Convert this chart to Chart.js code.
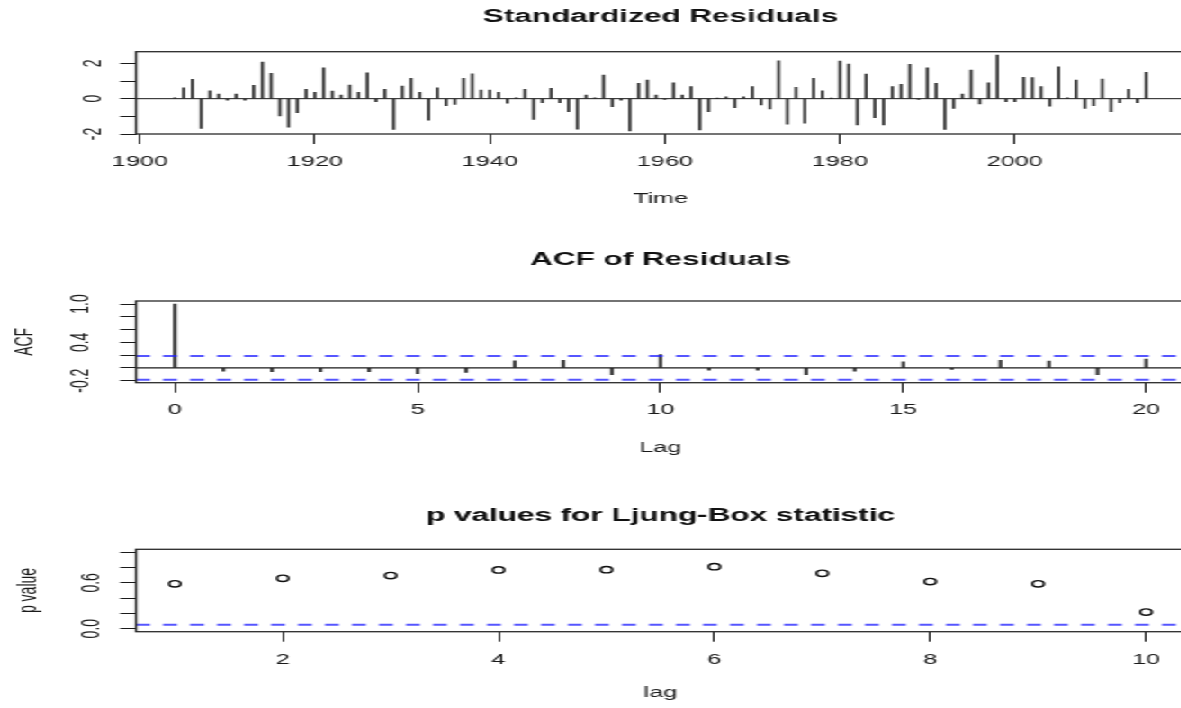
<!DOCTYPE html>
<html><head><meta charset="utf-8">
<script src="https://cdn.jsdelivr.net/npm/chart.js@4.4.1/dist/chart.umd.min.js"></script>
<style>
html,body{margin:0;padding:0;background:#fff;overflow:hidden;width:1181px;height:708px;}
#wrap{position:absolute;left:0;top:0;width:665px;height:708px;transform:scaleX(1.8);transform-origin:0 0;}
#wrap canvas{position:absolute;left:0;}
</style></head><body>
<div id="wrap">
<canvas id="c1" width="665" height="236" style="top:0px"></canvas>
<canvas id="c2" width="665" height="236" style="top:236px"></canvas>
<canvas id="c3" width="665" height="236" style="top:472px"></canvas>
</div>
<script>
// ---------------- DATA ----------------
const resYears = [1904,1905,1906,1907,1908,1909,1910,1911,1912,1913,1914,1915,1916,1917,1918,1919,
1920,1921,1922,1923,1924,1925,1926,1927,1928,1929,1930,1931,1932,1933,1934,1935,1936,1937,1938,1939,
1940,1941,1942,1943,1944,1945,1946,1947,1948,1949,1950,1951,1952,1953,1954,1955,1956,1957,1958,1959,
1960,1961,1962,1963,1964,1965,1966,1967,1968,1969,1970,1971,1972,1973,1974,1975,1976,1977,1978,1979,
1980,1981,1982,1983,1984,1985,1986,1987,1988,1989,1990,1991,1992,1993,1994,1995,1996,1997,1998,1999,
2000,2001,2002,2003,2004,2005,2006,2007,2008,2009,2010,2011,2012,2013,2014,2015];
const stdResiduals = [0.05,0.62,1.09,-1.68,0.45,0.26,-0.08,0.26,-0.08,0.75,2.07,1.43,-0.98,-1.62,-0.79,0.53,
0.36,1.75,0.43,0.21,0.77,0.36,1.47,-0.17,0.53,-1.74,0.72,1.15,0.36,-1.21,0.62,-0.40,-0.32,1.15,1.41,0.49,
0.49,0.36,-0.26,0.05,0.53,-1.17,-0.23,0.58,-0.23,-0.74,-1.72,0.21,0.05,1.34,-0.45,-0.08,-1.83,0.87,1.06,0.21,
-0.04,0.90,0.21,0.68,-1.77,-0.74,0.02,0.11,-0.51,0.11,0.68,-0.36,-0.58,2.15,-1.45,0.64,-1.39,1.15,0.45,0.02,
2.13,1.96,-1.49,1.39,-1.07,-1.49,0.68,0.81,1.94,-0.04,1.75,0.87,-1.74,-0.55,0.26,1.62,-0.30,0.90,2.47,-0.17,
-0.17,1.21,1.19,0.68,-0.42,1.81,0.05,1.06,-0.55,-0.40,1.11,-0.74,-0.23,0.53,-0.23,1.49];
const resXTicks = [1900,1920,1940,1960,1980,2000];
const resXTickLabels = ['1900','1920','1940','1960','1980','2000'];
const resYTicks = [-2,-1,0,1,2];
const resYTickLabels = ['-2','','0','','2'];

const acfLags = [0,1,2,3,4,5,6,7,8,9,10,11,12,13,14,15,16,17,18,19,20];
const acfValues = [1.0,-0.05,-0.06,-0.06,-0.06,-0.089,-0.073,0.11,0.12,-0.105,0.21,-0.037,-0.037,-0.105,-0.05,0.095,-0.026,0.12,0.105,-0.105,0.136];
const acfBound = 0.185;
const acfXTicks = [0,5,10,15,20];
const acfXTickLabels = ['0','5','10','15','20'];
const acfYTicks = [-0.2,0,0.2,0.4,0.6,0.8,1.0];
const acfYTickLabels = ['-0.2','','','0.4','','','1.0'];

const lbLags = [1,2,3,4,5,6,7,8,9,10];
const lbPValues = [0.587,0.66,0.695,0.77,0.773,0.812,0.725,0.617,0.587,0.217];
const lbSignif = 0.05;
const lbXTicks = [2,4,6,8,10];
const lbXTickLabels = ['2','4','6','8','10'];
const lbYTicks = [0,0.2,0.4,0.6,0.8,1.0];
const lbYTickLabels = ['0.0','','','0.6','',''];

// ---------------- LAYOUT ----------------
const SX = 1.8;                 // horizontal stretch of the reference
const CW = 665;                 // canvas width (before stretch)
const PLOT_LEFT = 136 / SX;
const PLOT_RIGHT = 1185 / SX;
const FONT = '"Liberation Sans", Arial, Helvetica, sans-serif';
Chart.defaults.font.family = FONT;
Chart.defaults.color = '#1a1a1a';

const decor = {
  id: 'decor',
  afterDraw(chart, args, opts) {
    const {ctx, chartArea: a} = chart;
    const ys = chart.scales.y;
    ctx.save();
    ctx.strokeStyle = '#2a2a2a';
    ctx.lineWidth = 1.3;
    ctx.strokeRect(a.left, a.top, a.right - a.left, a.bottom - a.top);
    ctx.fillStyle = '#1a1a1a';
    ctx.font = '14px ' + FONT;
    ctx.textAlign = 'center';
    ctx.textBaseline = 'alphabetic';
    ys.ticks.forEach(t => {
      if (!t.label) return;
      const y = ys.getPixelForValue(t.value);
      ctx.save();
      ctx.translate(opts.labelX, y);
      ctx.rotate(-Math.PI / 2);
      ctx.fillText(t.label, 0, 0);
      ctx.restore();
    });
    ctx.restore();
  }
};

function panel(id, p) {
  return new Chart(document.getElementById(id), {
    type: p.type,
    data: { datasets: p.datasets },
    plugins: [decor],
    options: {
      responsive: false,
      animation: false,
      events: [],
      layout: { padding: { left: 0, right: CW - PLOT_RIGHT, top: 0, bottom: p.padBottom } },
      plugins: {
        legend: { display: false },
        tooltip: { enabled: false },
        title: {
          display: true, text: p.title, fullSize: false, color: '#111',
          font: { size: 17.5, weight: 'bold' },
          padding: { top: p.titleTop, bottom: p.titleBottom }
        },
        decor: { labelX: p.yLabelX }
      },
      scales: {
        x: {
          type: 'linear', min: p.xMin, max: p.xMax, offset: false,
          afterBuildTicks: s => { s.ticks = p.xTicks.map(v => ({ value: v })); },
          afterFit: s => { s.height = p.xAxisH; },
          grid: { drawOnChartArea: false, drawTicks: true, tickLength: 10, color: '#1a1a1a', lineWidth: 1, offset: false },
          border: { display: false },
          ticks: { font: { size: 14 }, color: '#1a1a1a', padding: p.xTickPad, maxRotation: 0, minRotation: 0, autoSkip: false,
                   callback: (v, i) => p.xLabels[i] },
          title: { display: true, text: p.xTitle, font: { size: 14 }, color: '#1a1a1a', padding: { top: 0, bottom: 0 } }
        },
        y: {
          type: 'linear', min: p.yMin, max: p.yMax,
          afterBuildTicks: s => { s.ticks = p.yTicks.map(v => ({ value: v })); },
          afterFit: s => { s.width = PLOT_LEFT; },
          grid: { drawOnChartArea: false, drawTicks: true, tickLength: 16 / SX, color: '#1a1a1a', lineWidth: 1 },
          border: { display: false },
          ticks: { display: false, callback: (v, i) => p.yLabels[i] },
          title: { display: !!p.yTitle, text: p.yTitle || '', font: { size: 14 }, color: '#1a1a1a',
                   padding: { top: p.yTitlePad || 0, bottom: 0 } }
        }
      }
    }
  });
}

const dashStyle = { borderColor: 'rgba(30,30,255,0.75)', borderWidth: 2, borderDash: [14 / SX, 13 / SX],
                    pointRadius: 0, fill: false, type: 'line' };

// Panel 1: standardized residuals
const r0 = 1899.56, r1 = 2019.44;
panel('c1', {
  type: 'bar', title: 'Standardized Residuals', titleTop: 6.5, titleBottom: 24.2,
  xMin: r0, xMax: r1, yMin: -2.0, yMax: 2.66,
  xTicks: resXTicks, xLabels: resXTickLabels, yTicks: resYTicks, yLabels: resYTickLabels,
  xTitle: 'Time', xTickPad: 9.6, xAxisH: 73.4, padBottom: 28.6, yLabelX: 100 / SX,
  datasets: [
    { type: 'line', data: [{ x: r0, y: 0 }, { x: r1, y: 0 }], borderColor: '#1a1a1a', borderWidth: 1, pointRadius: 0 },
    { type: 'bar', data: resYears.map((yr, i) => ({ x: yr, y: stdResiduals[i] })),
      backgroundColor: '#333333', barThickness: 1.05, borderWidth: 0 }
  ]
});

// Panel 2: ACF of residuals
const a0 = -0.8, a1 = 20.8;
panel('c2', {
  type: 'bar', title: 'ACF of Residuals', titleTop: 14, titleBottom: 30,
  xMin: a0, xMax: a1, yMin: -0.232, yMax: 1.047,
  xTicks: acfXTicks, xLabels: acfXTickLabels, yTicks: acfYTicks, yLabels: acfYTickLabels,
  xTitle: 'Lag', xTickPad: 8.9, xAxisH: 73.7, padBottom: 15.6, yLabelX: 88.3 / SX,
  yTitle: 'ACF', yTitlePad: 5.9,
  datasets: [
    { type: 'line', data: [{ x: a0, y: 0 }, { x: a1, y: 0 }], borderColor: '#1a1a1a', borderWidth: 1.3, pointRadius: 0 },
    Object.assign({ data: [{ x: a0, y: acfBound }, { x: a1, y: acfBound }] }, dashStyle),
    Object.assign({ data: [{ x: a0, y: -acfBound }, { x: a1, y: -acfBound }] }, dashStyle),
    { type: 'bar', data: acfLags.map((l, i) => ({ x: l, y: acfValues[i] })),
      backgroundColor: '#444444', barThickness: 1.5, borderWidth: 0 }
  ]
});

// Panel 3: Ljung-Box p values
const l0 = 0.64, l1 = 10.36;
panel('c3', {
  type: 'scatter', title: 'p values for Ljung-Box statistic', titleTop: 33.5, titleBottom: 22.8,
  xMin: l0, xMax: l1, yMin: -0.04, yMax: 1.04,
  xTicks: lbXTicks, xLabels: lbXTickLabels, yTicks: lbYTicks, yLabels: lbYTickLabels,
  xTitle: 'lag', xTickPad: 9.9, xAxisH: 70.2, padBottom: 6.1, yLabelX: 99.5 / SX,
  yTitle: 'p value', yTitlePad: 8.1,
  datasets: [
    Object.assign({ data: [{ x: l0, y: lbSignif }, { x: l1, y: lbSignif }] }, dashStyle),
    { type: 'scatter', data: lbLags.map((l, i) => ({ x: l, y: lbPValues[i] })),
      pointStyle: 'circle', pointRadius: 3.2, borderColor: '#111', borderWidth: 1.4,
      backgroundColor: 'rgba(0,0,0,0)' }
  ]
});
</script>
</body></html>
